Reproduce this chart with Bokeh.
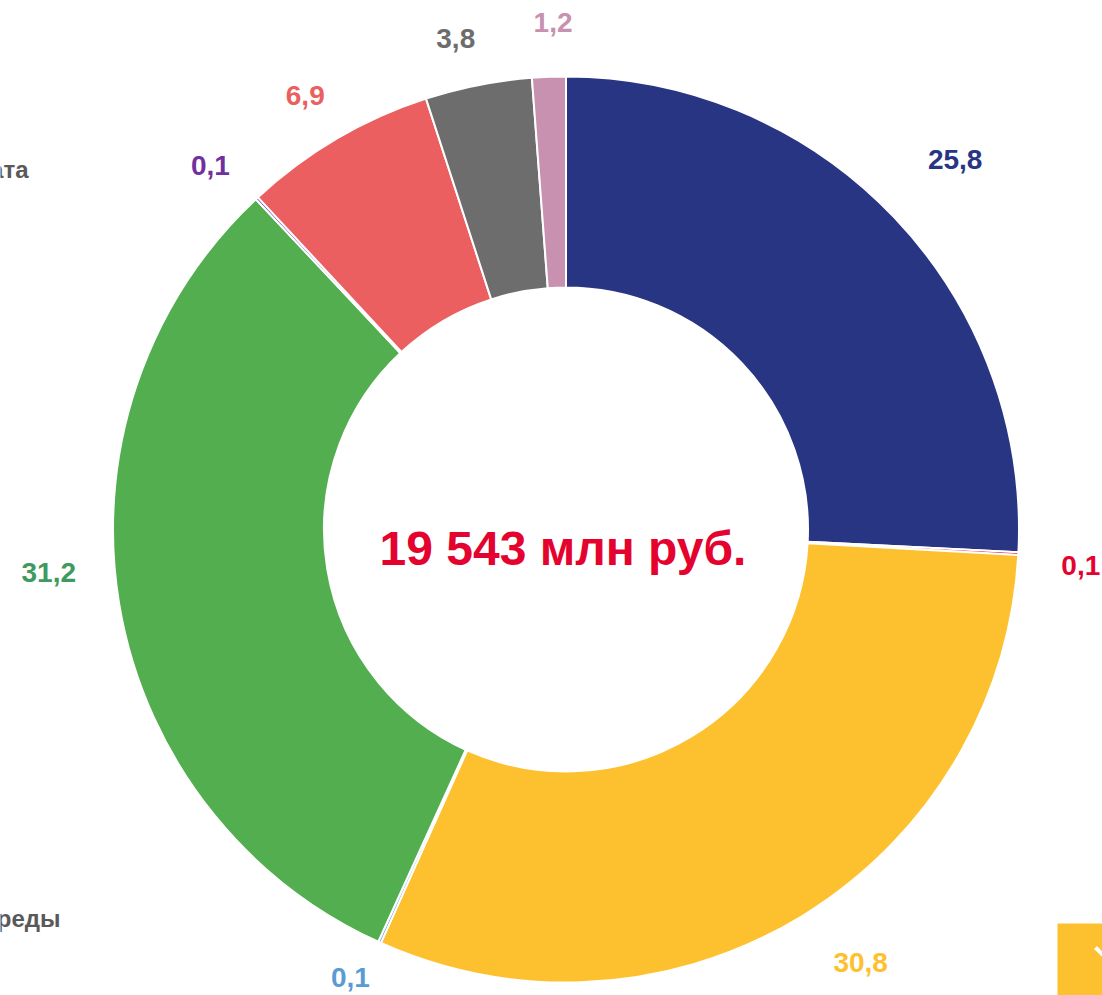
import numpy as np
from bokeh.plotting import figure
from bokeh.models import Range1d, ColumnDataSource
from bokeh.core.properties import value
from bokeh.embed import file_html
from bokeh.resources import INLINE

# ---- data ----
labels = ["25,8", "0,1", "30,8", "0,1", "31,2", "0,1", "6,9", "3,8", "1,2"]
values = [25.8, 0.1, 30.8, 0.1, 31.2, 0.1, 6.9, 3.8, 1.2]
colors = ["#283583", "#E4032E", "#FDC12F", "#5B9BD5", "#52AE4F",
          "#7030A0", "#EB5F61", "#6D6D6D", "#C891B0"]
label_colors = ["#283583", "#E4032E", "#FDC12F", "#5B9BD5", "#3E9A5E",
                "#7030A0", "#EB5F61", "#6D6D6D", "#C891B0"]
total_text = "19 543 млн руб."
legend_fragments = ["аппарата", "среды"]

# ---- layout (picture coordinates: y measured upward = H - picture y) ----
W, H = 1102, 995
cx, cy = 565.5, H - 529
r_in, r_out = 242, 453
label_r = [537, 516, 524, 497, 519, 509, 506, 503, 507]
label_shift = [0.0, 0.9, -2.9, 1.4, 4.6, -1.3, -0.6, -1.5, 0.7]  # degrees

vals = np.array(values)
cum = np.concatenate([[0], np.cumsum(vals)]) / vals.sum() * 360.0
theta0 = cum[:-1]
theta1 = cum[1:]
mid = (theta0 + theta1) / 2 + np.array(label_shift)

src = ColumnDataSource(dict(
    start=np.radians(90 - theta0), end=np.radians(90 - theta1), color=colors,
))
lx = cx + np.array(label_r) * np.sin(np.radians(mid))
ly = cy + np.array(label_r) * np.cos(np.radians(mid))
lsrc = ColumnDataSource(dict(x=lx, y=ly, text=labels, color=label_colors))

p = figure(width=W, height=H, x_range=Range1d(0, W), y_range=Range1d(0, H),
           output_backend="svg", toolbar_location=None, min_border=0)
p.axis.visible = False
p.grid.visible = False
p.outline_line_color = None
p.background_fill_color = "white"

p.annular_wedge(x=cx, y=cy, inner_radius=r_in, outer_radius=r_out,
                start_angle="start", end_angle="end",
                direction="clock", fill_color="color", line_color="white",
                line_width=2, source=src)

p.text(x="x", y="y", text="text", text_color="color", source=lsrc,
       text_font=value("Liberation Sans"), text_font_style="bold",
       text_font_size="28px", text_align="center", text_baseline="middle")

p.text(x=[cx - 3], y=[H - 548], text=[total_text], text_color="#E4032E",
       text_font=value("Liberation Sans"), text_font_style="bold",
       text_font_size="48px", text_align="center", text_baseline="middle")

# partially visible legend on the left
p.text(x=[28, 60], y=[H - 169, H - 918], text=legend_fragments, text_color="#595959",
       text_font=value("Liberation Sans"), text_font_style="bold",
       text_font_size="24px", text_align="right", text_baseline="alphabetic")

# partially visible legend marker bottom-right
p.quad(left=[1057], right=[1110], bottom=[-5], top=[H - 923],
       fill_color="#FDC12F", line_color=None)
p.line(x=[1095, 1110], y=[H - 947, H - 962], line_color="white", line_width=4)

open("out.html", "w").write(file_html(p, INLINE))
